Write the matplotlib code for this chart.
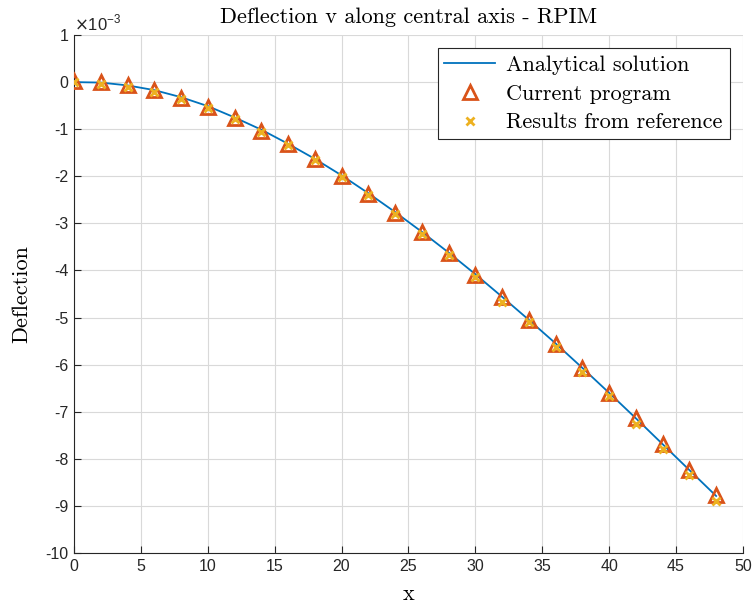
import numpy as np
import matplotlib
matplotlib.use('Agg')
from matplotlib import pyplot as plt

# positions along the central axis
x_nodes = [0, 2, 4, 6, 8, 10, 12, 14, 16, 18, 20, 22, 24,
           26, 28, 30, 32, 34, 36, 38, 40, 42, 44, 46, 48]

# deflection values (units of 1e-3)
analytical = [0.00, -0.01, -0.07, -0.17, -0.32, -0.51, -0.75, -1.01, -1.31, -1.63,
              -1.98, -2.36, -2.76, -3.18, -3.62, -4.08, -4.56, -5.05, -5.55, -6.07,
              -6.60, -7.14, -7.69, -8.24, -8.79]
current = [0.02, 0.00, -0.07, -0.17, -0.33, -0.53, -0.77, -1.03, -1.32, -1.64,
           -1.99, -2.37, -2.77, -3.19, -3.63, -4.09, -4.57, -5.06, -5.56, -6.08,
           -6.60, -7.14, -7.69, -8.23, -8.77]
reference = [0.00, -0.03, -0.10, -0.20, -0.35, -0.56, -0.79, -1.05, -1.34, -1.66,
             -2.02, -2.40, -2.81, -3.22, -3.67, -4.13, -4.66, -5.09, -5.62, -6.16,
             -6.66, -7.27, -7.80, -8.34, -8.90]

y_ticks = list(range(-10, 2))
x_ticks = list(range(0, 55, 5))

blue = '#0072BD'
orange = '#D95319'
yellow = '#EDB120'
axis_gray = '#262626'
serif = 'cmr10'

fig = plt.figure(figsize=(7.55, 6.09), dpi=100)
ax = fig.add_axes([0.098, 0.092, 0.886, 0.8505])

scale = 1e-3
ax.plot(x_nodes, np.array(analytical) * scale, color=blue, linewidth=1.3,
        label='Analytical solution', zorder=3)
ax.plot(x_nodes, np.array(current) * scale, linestyle='none', marker='^',
        markersize=10, markeredgewidth=2, markeredgecolor=orange,
        markerfacecolor='none', label='Current program', zorder=4)
ax.plot(x_nodes, np.array(reference) * scale, linestyle='none', marker='x',
        markersize=5.5, markeredgewidth=2, color=yellow,
        label='Results from reference', zorder=5)

ax.set_xlim(0, 50)
ax.set_ylim(-10 * scale, 1 * scale)
ax.set_xticks(x_ticks)
ax.set_xticklabels([str(t) for t in x_ticks])
ax.set_yticks([t * scale for t in y_ticks])
ax.set_yticklabels([str(t) for t in y_ticks])

ax.tick_params(direction='in', length=5, width=0.8, colors=axis_gray,
               labelsize=11.5, top=False, right=False, pad=4)
for lab in ax.get_xticklabels() + ax.get_yticklabels():
    lab.set_fontfamily('Liberation Sans')

ax.grid(True, color='#d9d9d9', linewidth=0.8)
ax.set_axisbelow(True)
for side in ['top', 'right']:
    ax.spines[side].set_visible(False)
for side in ['left', 'bottom']:
    ax.spines[side].set_color(axis_gray)
    ax.spines[side].set_linewidth(0.8)

ax.text(0.0, 1.003, r'$\times$10$^{\mathregular{-3}}$', transform=ax.transAxes,
        fontsize=12, color=axis_gray, fontfamily='Liberation Sans',
        ha='left', va='bottom')

ax.set_title('Deflection v along central axis - RPIM', fontfamily=serif,
             fontsize=16, pad=9)
ax.set_xlabel('x', fontfamily=serif, fontsize=16, labelpad=8)
ax.set_ylabel('Deflection', fontfamily=serif, fontsize=16, labelpad=10)

leg = ax.legend(loc='upper right', bbox_to_anchor=(0.980, 0.974),
                prop={'family': serif, 'size': 16}, fancybox=False,
                framealpha=1, edgecolor=axis_gray, borderpad=0.3,
                labelspacing=0.42, handlelength=2.3, handletextpad=0.5,
                borderaxespad=0)
leg.get_frame().set_linewidth(0.8)

fig.savefig('out.png', dpi=100)
